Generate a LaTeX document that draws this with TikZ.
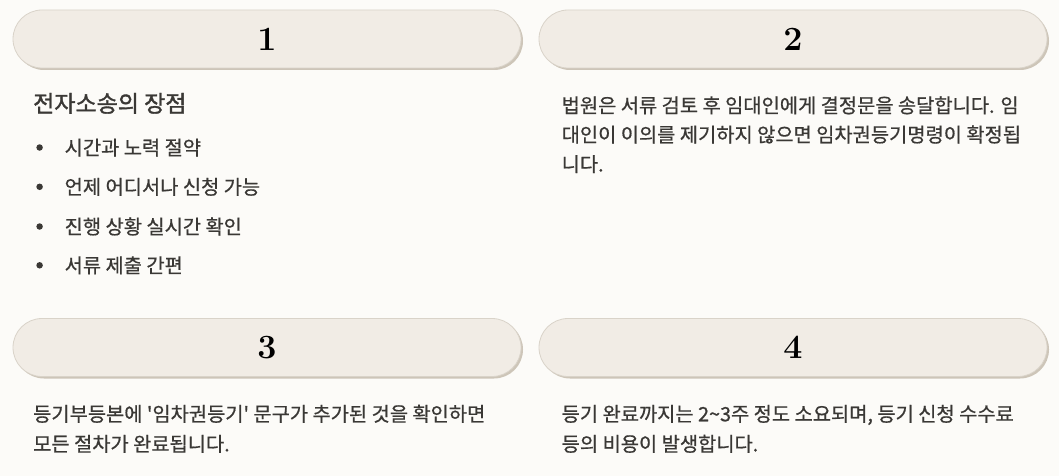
\documentclass[tikz,border=0pt]{standalone}
\usepackage{fontspec}
\newfontfamily\kr{Noto Sans CJK KR}[FakeBold=0.7]
\newfontfamily\krt{Noto Sans CJK KR}[FakeBold=1.5]
\usetikzlibrary{shadows}
\definecolor{bg}{HTML}{FCFBF8}
\definecolor{pillfill}{HTML}{F1ECE5}
\definecolor{pillline}{HTML}{D9D3C9}
\definecolor{pillshadow}{HTML}{CDC5B8}
\definecolor{txt}{HTML}{3A3835}
\tikzset{
  pill/.style={rectangle, rounded corners=29pt, minimum width=508pt, minimum height=58pt,
    fill=pillfill, draw=pillline, line width=0.8pt,
    drop shadow={shadow xshift=2pt, shadow yshift=-2pt, fill=pillshadow, opacity=1},
    font=\bfseries\fontsize{34}{34}\selectfont, text=black, inner sep=0pt},
  body/.style={anchor=base west, inner sep=0pt, text=txt, font=\kr\fontsize{19.8}{30}\selectfont},
  title/.style={anchor=base west, inner sep=0pt, text=txt, font=\krt\fontsize{23}{30}\selectfont},
  bul/.style={circle, fill=txt, inner sep=0pt, minimum size=6.5pt}
}
\begin{document}
\begin{tikzpicture}[x=1pt,y=-1pt]
\fill[bg] (0,0) rectangle (1059,476);
\useasboundingbox (0,0) rectangle (1059,476);
% pills
\node[pill] (n1) at (267,39) {1};
\node[pill] (n2) at (793,39) {2};
\node[pill] (n3) at (267,347.5) {3};
\node[pill] (n4) at (793,347.5) {4};
% panel 1
\node[title] (t1) at (33,112) {전자소송의 장점};
\node[bul] (b1) at (39.6,147.5) {};
\node[body] (i1) at (64.5,155) {시간과 노력 절약};
\node[bul] (b2) at (39.6,186.8) {};
\node[body] (i2) at (64.5,194.3) {언제 어디서나 신청 가능};
\node[bul] (b3) at (39.6,226.5) {};
\node[body] (i3) at (64.5,234) {진행 상황 실시간 확인};
\node[bul] (b4) at (39.6,265.3) {};
\node[body] (i4) at (64.5,272.8) {서류 제출 간편};
% panel 2
\node[body] (p2a) at (561.5,112.8) {법원은 서류 검토 후 임대인에게 결정문을 송달합니다. 임};
\node[body] (p2b) at (561.5,142) {대인이 이의를 제기하지 않으면 임차권등기명령이 확정됩};
\node[body] (p2c) at (561.5,171.5) {니다.};
% panel 3
\node[body] (p3a) at (33,421.3) {등기부등본에 '임차권등기' 문구가 추가된 것을 확인하면};
\node[body] (p3b) at (33,451.3) {모든 절차가 완료됩니다.};
% panel 4
\node[body] (p4a) at (561.5,421.3) {등기 완료까지는 2\textasciitilde 3주 정도 소요되며, 등기 신청 수수료};
\node[body] (p4b) at (561.5,451.3) {등의 비용이 발생합니다.};
\end{tikzpicture}
\end{document}
